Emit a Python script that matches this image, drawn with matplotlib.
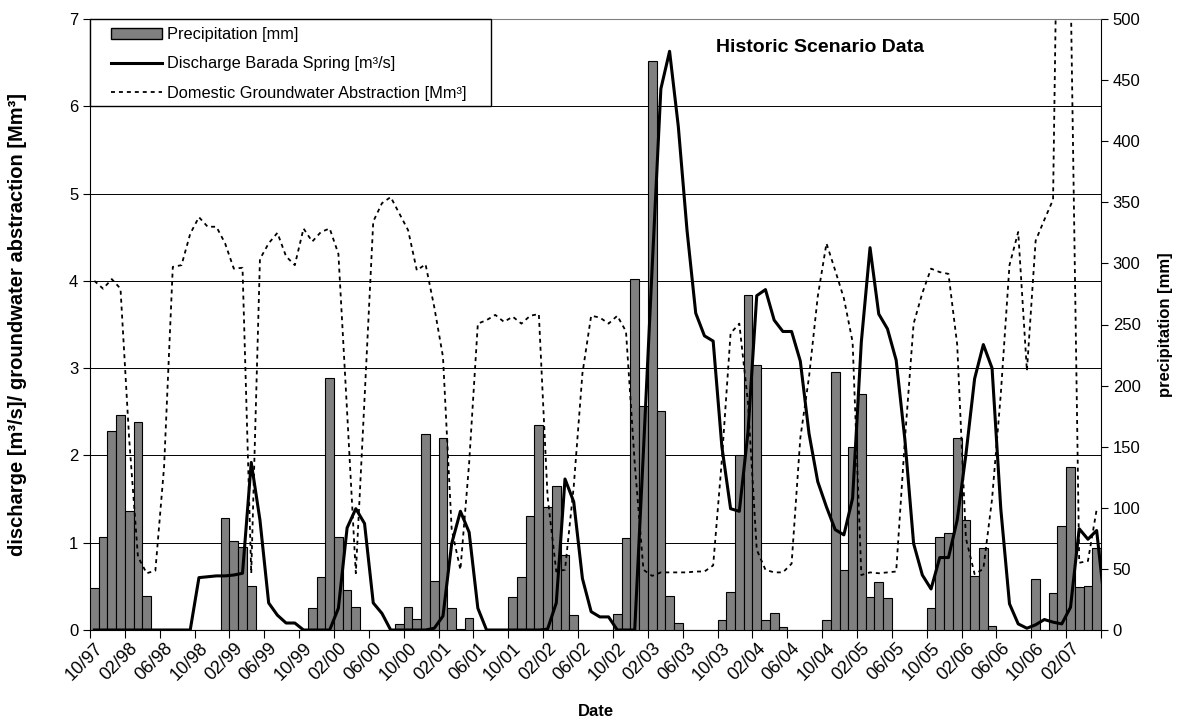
import numpy as np
import pandas as pd
import matplotlib
matplotlib.use('Agg')
import matplotlib.pyplot as plt
from matplotlib.patches import Patch, Rectangle
from matplotlib.lines import Line2D

plt.rcParams['font.family'] = ['Liberation Sans', 'DejaVu Sans']

# monthly series, 10/97 .. 06/07 (last point only partly visible)
months = pd.date_range('1997-10-01', periods=117, freq='MS')

precip = [34, 76, 163, 176, 97, 170, 28, 0, 0, 0, 0, 0,
          0, 0, 0, 92, 73, 68, 36, 0, 0, 0, 0, 0,
          0, 18, 43, 206, 76, 33, 19, 0, 0, 0, 0, 5,
          19, 9, 160, 40, 157, 18, 1, 10, 0, 0, 0, 0,
          27, 43, 93, 168, 101, 118, 61, 12, 0, 0, 0, 0,
          13, 75, 287, 183, 466, 179, 28, 6, 0, 0, 0, 0,
          8, 31, 143, 274, 217, 8, 14, 2.5, 0, 0, 0, 0,
          8, 211, 49, 150, 193, 27, 39, 26, 0, 0, 0, 0,
          18, 76, 79, 157, 90, 44, 67, 3.4, 0, 0, 0, 0,
          42, 0, 30, 85, 133, 35, 36, 67, 0]

discharge = [0, 0, 0, 0, 0, 0, 0, 0, 0, 0, 0, 0,
             0.60, 0.61, 0.62, 0.62, 0.63, 0.65, 1.92, 1.26, 0.31, 0.17, 0.08, 0.08,
             0, 0, 0, 0, 0.25, 1.17, 1.39, 1.22, 0.31, 0.19, 0, 0,
             0, 0, 0, 0.02, 0.16, 0.99, 1.36, 1.12, 0.25, 0, 0, 0,
             0, 0, 0, 0, 0.01, 0.31, 1.73, 1.47, 0.59, 0.21, 0.15, 0.15,
             0, 0, 0, 2.05, 4.15, 6.20, 6.63, 5.77, 4.58, 3.63, 3.37, 3.31,
             2.10, 1.39, 1.36, 2.27, 3.83, 3.90, 3.55, 3.42, 3.42, 3.08, 2.25, 1.70,
             1.41, 1.15, 1.09, 1.51, 3.30, 4.38, 3.62, 3.45, 3.09, 2.18, 0.99, 0.63,
             0.47, 0.83, 0.83, 1.26, 2.01, 2.88, 3.27, 3.00, 1.39, 0.30, 0.07, 0.02,
             0.06, 0.12, 0.09, 0.07, 0.26, 1.16, 1.04, 1.14, 0.22]

abstraction = [4.00, 3.91, 4.02, 3.91, 2.18, 0.84, 0.65, 0.68, 1.87, 4.16, 4.18, 4.54,
               4.73, 4.62, 4.62, 4.43, 4.14, 4.15, 0.65, 4.25, 4.43, 4.55, 4.28, 4.18,
               4.60, 4.45, 4.56, 4.60, 4.31, 2.50, 0.65, 2.65, 4.68, 4.89, 4.96, 4.77,
               4.58, 4.12, 4.19, 3.70, 3.13, 1.15, 0.69, 1.91, 3.51, 3.55, 3.61, 3.53,
               3.59, 3.51, 3.60, 3.62, 1.53, 0.67, 0.69, 1.64, 2.94, 3.60, 3.58, 3.51,
               3.60, 3.42, 1.91, 0.69, 0.62, 0.66, 0.66, 0.66, 0.66, 0.67, 0.67, 0.74,
               1.95, 3.40, 3.51, 2.60, 0.92, 0.69, 0.66, 0.66, 0.76, 2.20, 2.90, 3.82,
               4.43, 4.12, 3.80, 3.30, 0.63, 0.66, 0.65, 0.66, 0.67, 2.18, 3.51, 3.86,
               4.14, 4.10, 4.08, 3.27, 1.05, 0.64, 0.70, 1.50, 2.70, 4.18, 4.56, 2.97,
               4.46, 4.70, 4.93, 12.0, 7.5, 0.77, 0.79, 1.38, np.nan]

tick_labels = [m.strftime('%m/%y') for m in months[:113:4]]

x = np.arange(len(months))

fig = plt.figure(figsize=(11.78, 7.22), dpi=100)
ax = fig.add_axes([90 / 1178, 1 - 630 / 722, 1011 / 1178, 611 / 722])
ax2 = ax.twinx()
ax3 = ax.twinx()

# base axes: left scale + gridlines
ax.set_ylim(0, 7)
ax.set_yticks(range(8))
ax.yaxis.grid(True, color='black', lw=0.7)
ax.set_axisbelow(True)
ax.set_xlim(-0.5, 115.5)
ax.tick_params(axis='y', labelsize=12, length=5, width=0.8)
for s in ['left', 'bottom', 'right']:
    ax.spines[s].set_color('black')
ax.spines['top'].set_color('#808080')

ax.set_xticks(np.arange(-0.5, 116, 4))
ax.set_xticklabels([])
ax.set_xticks(x[:113:4], minor=True)
ax.set_xticklabels(tick_labels, minor=True, rotation=45, ha='right',
                   rotation_mode='anchor', fontsize=13)
ax.tick_params(axis='x', which='major', length=6, width=0.8, direction='out')
ax.tick_params(axis='x', which='minor', length=0, pad=7)

ax.set_ylabel('discharge [m³/s]/ groundwater abstraction [Mm³]', fontweight='bold',
              fontsize=14.5, va='center')
ax.yaxis.set_label_coords(-72 / 1011, 0.5)
ax.set_xlabel('Date', fontweight='bold', fontsize=12, va='center')
ax.xaxis.set_label_coords(0.5, -81 / 611)

# precipitation bars on secondary scale
ax2.bar(x, precip, width=1.0, color='#808080', edgecolor='black', linewidth=0.8)
ax2.set_ylim(0, 500)
ax2.set_yticks(range(0, 501, 50))
ax2.tick_params(axis='y', labelsize=12, length=5, width=0.8)
ax2.set_ylabel('precipitation [mm]', fontweight='bold', fontsize=12, va='center')
ax2.yaxis.set_label_coords(1075 / 1011, 0.5)
for s in ax2.spines.values():
    s.set_visible(False)

# lines on top of bars
ax3.plot(x, discharge, color='black', lw=2.2)
ax3.plot(x, abstraction, color='black', lw=1.3, ls=(0, (2.2, 2.2)))
ax3.set_ylim(0, 7)
ax3.yaxis.set_visible(False)
for s in ax3.spines.values():
    s.set_visible(False)

ax3.text(0.722, 0.954, 'Historic Scenario Data', transform=ax3.transAxes,
         ha='center', va='center', fontweight='bold', fontsize=14)

ax3.add_patch(Rectangle((0, 1 - 87 / 611), 401 / 1011, 87 / 611, transform=ax3.transAxes,
                        facecolor='white', edgecolor='black', lw=1, zorder=4, clip_on=False))
handles = [Patch(facecolor='#808080', edgecolor='black'),
           Line2D([], [], color='black', lw=2.2),
           Line2D([], [], color='black', lw=1.3, ls=(0, (2.2, 2.2)))]
labels = ['Precipitation [mm]', 'Discharge Barada Spring [m³/s]',
          'Domestic Groundwater Abstraction [Mm³]']
leg = ax3.legend(handles, labels, loc='upper left', bbox_to_anchor=(21 / 1011, 1 - 8 / 611),
                 frameon=False, fontsize=11.8, handlelength=3.1, handletextpad=0.3,
                 labelspacing=0.87, borderpad=0, borderaxespad=0)
leg.set_zorder(5)

fig.savefig('out.png', dpi=100)
